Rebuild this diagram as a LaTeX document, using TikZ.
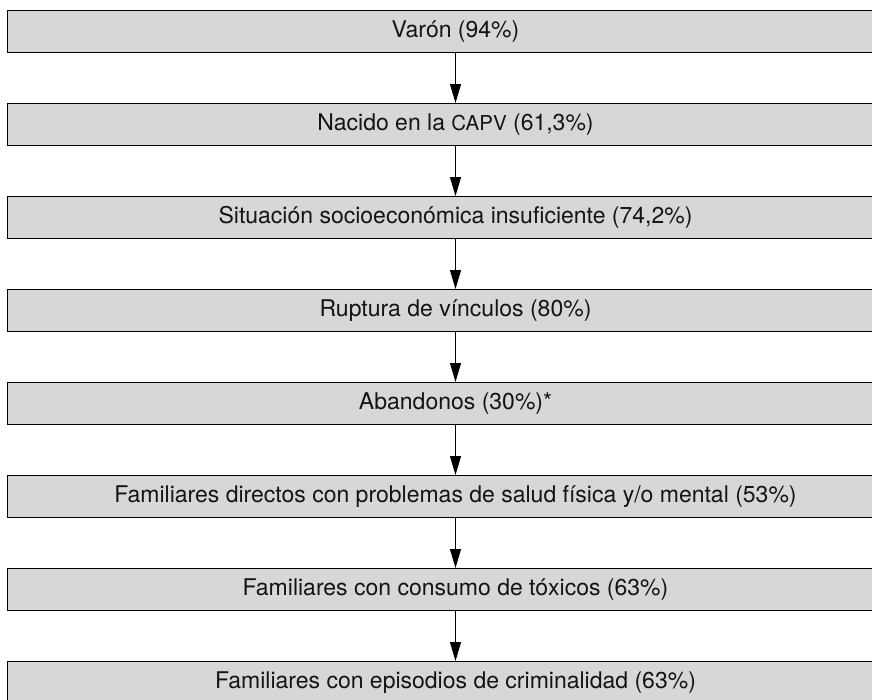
\documentclass[tikz,border=0pt]{standalone}
\usepackage{fontspec}
\setmainfont{TeX Gyre Heros}
\usetikzlibrary{arrows.meta}
\definecolor{boxfill}{HTML}{D7D7D7}
\definecolor{txt}{HTML}{141414}
\tikzset{
  stepbox/.style={draw=black, line width=1pt, fill=boxfill, anchor=north west,
    minimum width=896pt, minimum height=41.5pt, inner sep=0pt,
    font=\fontsize{23pt}{27pt}\selectfont, text=txt},
  flow/.style={line width=1pt, -{Triangle[width=11pt,length=19pt]}}
}
\begin{document}
\begin{tikzpicture}[x=1pt,y=-1pt]
\useasboundingbox (0,0) rectangle (872,699);
\clip (0,0) rectangle (872,699);
\fill[white] (0,0) rectangle (872,699);
\node[stepbox] (b1) at (7,10) {Varón (94\%)};
\node[stepbox] (b2) at (7,103) {Nacido en la {\fontsize{20.5pt}{24pt}\selectfont CAPV} (61,3\%)};
\node[stepbox] (b3) at (7,196) {Situación socioeconómica insuficiente (74,2\%)};
\node[stepbox] (b4) at (7,289) {Ruptura de vínculos (80\%)};
\node[stepbox] (b5) at (7,382) {Abandonos (30\%)*};
\node[stepbox] (b6) at (7,475) {Familiares directos con problemas de salud física y/o mental (53\%)};
\node[stepbox] (b7) at (7,568) {Familiares con consumo de tóxicos (63\%)};
\node[stepbox] (b8) at (7,661) {Familiares con episodios de criminalidad (63\%)};
\draw[flow] (b1.south) -- (b2.north);
\draw[flow] (b2.south) -- (b3.north);
\draw[flow] (b3.south) -- (b4.north);
\draw[flow] (b4.south) -- (b5.north);
\draw[flow] (b5.south) -- (b6.north);
\draw[flow] (b6.south) -- (b7.north);
\draw[flow] (b7.south) -- (b8.north);
\end{tikzpicture}
\end{document}
